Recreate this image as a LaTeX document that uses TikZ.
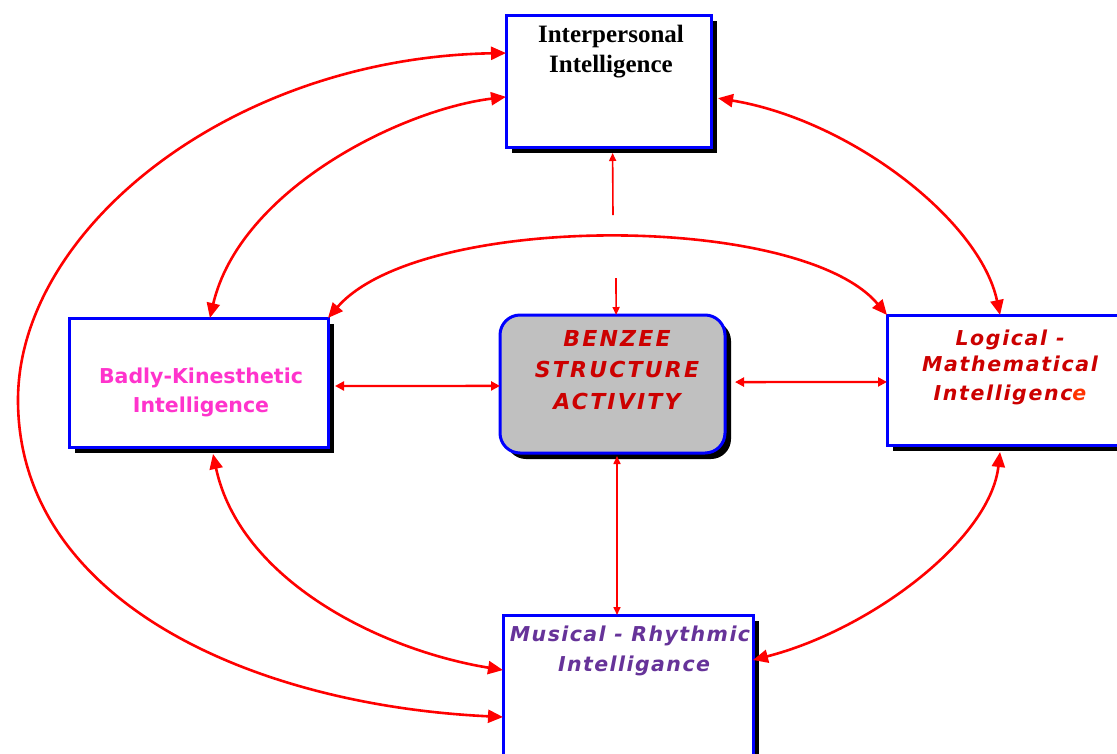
\documentclass[tikz,border=0pt]{standalone}
\usepackage{fontspec}
\setmainfont{Liberation Serif}
\newfontfamily\vsans{DejaVu Sans}
\usetikzlibrary{arrows.meta,calc,shadows}
\definecolor{boxblue}{RGB}{0,0,255}
\definecolor{arrred}{RGB}{255,0,0}
\definecolor{pinktxt}{RGB}{255,51,204}
\definecolor{darkred}{RGB}{204,0,0}
\definecolor{orangered}{RGB}{255,51,0}
\definecolor{purpletxt}{RGB}{102,51,153}
\definecolor{boxgrey}{RGB}{192,192,192}
\begin{document}
\begin{tikzpicture}[x=1pt,y=-1pt,
  boxstyle/.style={draw=boxblue, line width=3pt, fill=white, inner sep=0pt, outer sep=0pt,
    anchor=north west, drop shadow={shadow xshift=6pt, shadow yshift=-6pt, fill=black, opacity=1}},
  curvearrow/.style={draw=arrred, line width=2.6pt,
    {Triangle[length=15pt,width=13pt]}-{Triangle[length=15pt,width=13pt]}},
  strarrow/.style={draw=arrred, line width=2.4pt,
    {Triangle[length=9pt,width=9pt]}-{Triangle[length=9pt,width=9pt]}},
  thinarrow/.style={draw=arrred, line width=1.6pt},
  thintip/.style={-{Triangle[length=8pt,width=7pt]}},
  lbl/.style={inner sep=0pt, anchor=base},
  serifbold/.style={font=\fontsize{25}{30}\selectfont\bfseries},
  sansbold/.style={font=\vsans\fontsize{20.5}{25}\selectfont\bfseries},
  sansit/.style 2 args={font=\vsans\fontsize{#2}{25}\selectfont\bfseries\itshape\addfontfeature{LetterSpace=#1}},
]
\useasboundingbox (0,0) rectangle (1117,753);
\clip (0,0) rectangle (1117,753);

% boxes
\node[boxstyle, minimum width=205pt, minimum height=132pt] (inter) at (506,15) {};
\node[boxstyle, minimum width=259pt, minimum height=129pt] (badly) at (69,318) {};
\node[boxstyle, minimum width=238pt, minimum height=130pt] (logic) at (887,315) {};
\node[boxstyle, minimum width=250pt, minimum height=150pt] (music) at (503,615) {};
\node[boxstyle, fill=boxgrey, rounded corners=20pt, minimum width=225pt, minimum height=138pt] (center) at (500,315) {};

% texts
\node[lbl, serifbold] (t1a) at (611,42) {Interpersonal};
\node[lbl, serifbold] (t1b) at (611,72) {Intelligence};

\node[lbl, sansbold, text=pinktxt] (t2a) at (201,383) {Badly-Kinesthetic};
\node[lbl, sansbold, text=pinktxt] (t2b) at (201,412) {Intelligence};

\node[lbl, sansit={10}{22}, text=darkred] (t3a) at (617,346) {BENZEE};
\node[lbl, sansit={10}{22}, text=darkred] (t3b) at (617,377) {STRUCTURE};
\node[lbl, sansit={10}{22}, text=darkred] (t3c) at (617,409) {ACTIVITY};

\node[lbl, sansit={8}{20.5}, text=darkred] (t4a) at (1010,345) {Logical -};
\node[lbl, sansit={8}{20.5}, text=darkred] (t4b) at (1010,371) {Mathematical};
\node[lbl, sansit={8}{20.5}, text=darkred] (t4c) at (1010,400) {Intelligenc{\color{orangered}e}};

\node[lbl, sansit={7}{20.5}, text=purpletxt] (t5a) at (630,641) {Musical - Rhythmic};
\node[lbl, sansit={7}{20.5}, text=purpletxt] (t5b) at (634,671) {Intelligance};

% connector end points on the boxes
\coordinate (iW1) at ($(inter.north west)!0.288!(inter.south west)$);
\coordinate (iW2) at ($(inter.north west)!0.62!(inter.south west)$);
\coordinate (iE)  at ($(inter.north east)!0.63!(inter.south east)+(7,0)$);
\coordinate (iS)  at ($(inter.south west)!0.52!(inter.south east)+(0,6)$);
\coordinate (bN)  at ($(badly.north west)!0.544!(badly.north east)$);
\coordinate (bS)  at ($(badly.south west)!0.556!(badly.south east)+(0,7)$);
\coordinate (bE)  at ($(badly.north east)!0.527!(badly.south east)+(7,0)$);
\coordinate (lN)  at ($(logic.north west)!0.475!(logic.north east)$);
\coordinate (lS)  at ($(logic.south west)!0.475!(logic.south east)+(0,7)$);
\coordinate (lW)  at ($(logic.north west)!0.515!(logic.south west)$);
\coordinate (mW1) at ($(music.north west)!0.68!(music.south west)$);
\coordinate (mW2) at ($(music.north west)!0.367!(music.south west)$);
\coordinate (mE)  at ($(music.north east)!0.30!(music.south east)$);
\coordinate (mN)  at ($(music.north west)!0.456!(music.north east)$);
\coordinate (cW)  at ($(center.north west)!0.514!(center.south west)$);
\coordinate (cE)  at ($(center.north east)!0.486!(center.south east)+(10,0)$);
\coordinate (cN)  at ($(center.north west)!0.516!(center.north east)$);
\coordinate (cS)  at ($(center.south west)!0.52!(center.south east)+(0,3)$);
\coordinate (gapA) at (613,215);
\coordinate (gapB) at (616,278);

% curved connectors
\draw[curvearrow] (iW1) .. controls (230,58) and (18,230) .. (18,400)
                        .. controls (18,600) and (250,705) .. (mW1);
\draw[curvearrow] (iW2) .. controls (400,110) and (240,190) .. (bN);
\draw[curvearrow] (badly.north east) .. controls (420,212) and (800,212) .. (logic.north west);
\draw[curvearrow] (iE) .. controls (850,120) and (980,220) .. (lN);
\draw[curvearrow] (bS) .. controls (240,580) and (380,650) .. (mW2);
\draw[curvearrow] (lS) .. controls (990,540) and (870,630) .. (mE);

% straight connectors
\draw[strarrow] (bE) -- (cW);
\draw[strarrow] (cE) -- (lW);
\draw[thinarrow, thintip] (gapA) -- (iS);
\draw[thinarrow, thintip] (gapB) -- (cN);
\draw[thinarrow, {Triangle[length=8pt,width=7pt]}-{Triangle[length=8pt,width=7pt]}] (cS) -- (mN);
\end{tikzpicture}
\end{document}
